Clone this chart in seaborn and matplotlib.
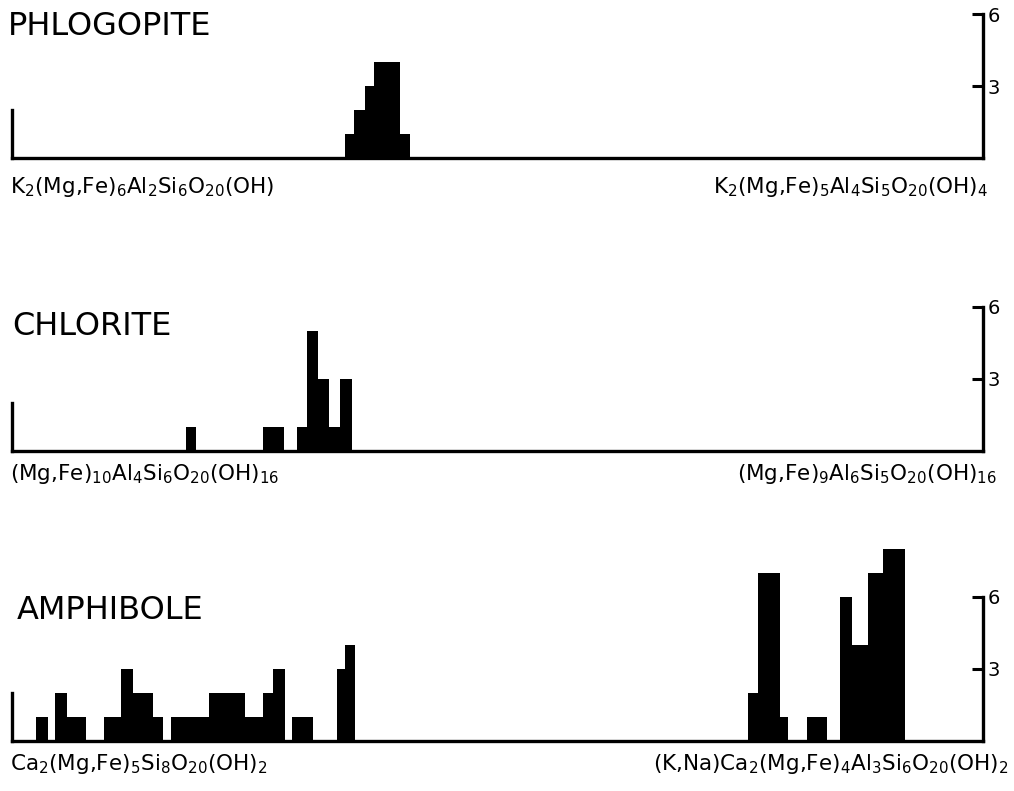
import numpy as np
import pandas as pd
import matplotlib
matplotlib.use("Agg")
import matplotlib.pyplot as plt
import seaborn as sns

# --- data: histogram bin edges (% along the join) and counts per bin ---
phl_edges = [34.3, 35.2, 36.4, 37.3, 40.0, 41.0]
phl_counts = [1, 2, 3, 4, 1]

chl_edges = [17.9, 19.0, 25.8, 28.0, 29.4, 30.4, 31.5, 32.6, 33.8, 35.0]
chl_counts = [1, 0, 1, 0, 1, 5, 3, 1, 3]

amp_edges = [2.44, 3.74, 4.43, 5.63, 7.59, 9.47, 11.19, 12.49, 14.55, 15.52,
             16.34, 20.32, 24.00, 25.88, 26.91, 28.12, 28.81, 31.03, 33.44,
             34.29, 35.32, 75.83, 76.86, 79.09, 79.95, 81.90, 83.96, 85.27,
             86.48, 88.19, 89.73, 91.97]
amp_counts = [1, 0, 2, 1, 0, 1, 3, 2, 1, 0,
              1, 2, 1, 2, 3, 0, 1, 0, 3,
              4, 0, 2, 7, 1, 0, 1, 0, 6,
              4, 7, 8]

names = ["PHLOGOPITE", "CHLORITE", "AMPHIBOLE"]
left_formulas = [
    r"K$_2$(Mg,Fe)$_6$Al$_2$Si$_6$O$_{20}$(OH)",
    r"(Mg,Fe)$_{10}$Al$_4$Si$_6$O$_{20}$(OH)$_{16}$",
    r"Ca$_2$(Mg,Fe)$_5$Si$_8$O$_{20}$(OH)$_2$",
]
right_formulas = [
    r"K$_2$(Mg,Fe)$_5$Al$_4$Si$_5$O$_{20}$(OH)$_4$",
    r"(Mg,Fe)$_9$Al$_6$Si$_5$O$_{20}$(OH)$_{16}$",
    r"(K,Na)Ca$_2$(Mg,Fe)$_4$Al$_3$Si$_6$O$_{20}$(OH)$_2$",
]
y_ticks = [3, 6]

sns.set_style("white")
plt.rcParams["font.family"] = ["DejaVu Sans"]
plt.rcParams["mathtext.fontset"] = "dejavusans"
plt.rcParams["text.color"] = "black"

W, H = 1014, 791
fig = plt.figure(figsize=(W / 100, H / 100), dpi=100)

px_per_unit = 24.0
ax_left, ax_right = 12, 983

# (baseline px, ylim top, title x, title baseline, label baseline, right label end)
layout = [
    (158, 6.4, 8, 35, 193, 988),
    (451, 6.4, 12, 335, 480, 997),
    (741, 8.4, 17, 619, 770, 1008),
]
panels = [(phl_edges, phl_counts), (chl_edges, chl_counts), (amp_edges, amp_counts)]

for i, (edges, counts) in enumerate(panels):
    base, ytop, tx, ty, lab_y, rx = layout[i]
    h = ytop * px_per_unit
    ax = fig.add_axes([ax_left / W, 1 - base / H, (ax_right - ax_left) / W, h / H])

    e = np.array(edges)
    df = pd.DataFrame({"x": (e[:-1] + e[1:]) / 2, "n": counts})
    sns.histplot(data=df, x="x", weights="n", bins=list(edges), stat="count",
                 color="black", alpha=1, linewidth=0, ax=ax)

    ax.set_xlim(0, 100)
    ax.set_ylim(0, ytop)
    ax.set_xlabel("")
    ax.set_ylabel("")
    ax.set_xticks([])
    ax.yaxis.tick_right()
    ax.set_yticks(y_ticks)
    ax.set_yticklabels([str(t) for t in y_ticks])
    ax.tick_params(axis="y", direction="in", length=8, width=2.2, pad=3,
                   labelsize=14, colors="black")
    for s in ["left", "right", "bottom"]:
        ax.spines[s].set_linewidth(2.4)
        ax.spines[s].set_color("black")
        ax.spines[s].set_capstyle("projecting")
    ax.spines["top"].set_visible(False)
    ax.spines["right"].set_bounds(0, 6)
    ax.spines["left"].set_bounds(0, 2)
    ax.patch.set_alpha(0)

    fig.text(tx / W, 1 - ty / H, names[i], fontsize=23, va="baseline", ha="left")
    fig.text(10 / W, 1 - lab_y / H, left_formulas[i], fontsize=15.5,
             va="baseline", ha="left")
    fig.text(rx / W, 1 - lab_y / H, right_formulas[i], fontsize=15.5,
             va="baseline", ha="right")

fig.savefig("out.png", dpi=100, facecolor="white")
